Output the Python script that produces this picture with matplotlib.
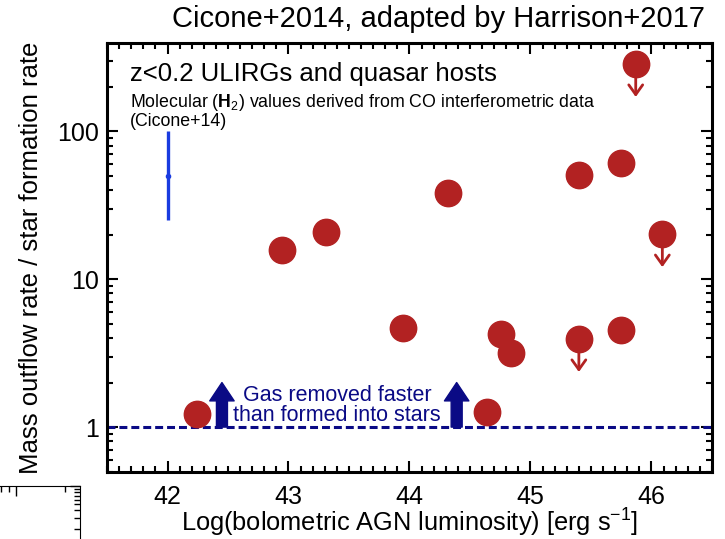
import numpy as np
import matplotlib
matplotlib.use('Agg')
import matplotlib.pyplot as plt

plt.rcParams['font.family'] = 'Liberation Sans'
plt.rcParams['mathtext.fontset'] = 'custom'
plt.rcParams['mathtext.rm'] = 'Liberation Sans'
plt.rcParams['mathtext.it'] = 'Liberation Sans:italic'
plt.rcParams['mathtext.bf'] = 'Liberation Sans:bold'

# detections: log L_bol, outflow rate / SFR
lbol = [42.24, 42.95, 43.31, 43.95, 44.32, 44.64, 44.76, 44.84, 45.40, 45.75, 45.75]
ratio = [1.22, 15.7, 20.8, 4.67, 38.1, 1.26, 4.25, 3.16, 50.4, 60.8, 4.53]

# upper limits
lbol_ul = [45.40, 45.87, 46.09]
ratio_ul = [3.93, 284.0, 20.1]

# typical uncertainty
err_x = 42.0
err_y = 50.0
err_lo = 25.0
err_hi = 100.0

red = '#b22222'
navy = '#0a0a85'

fig = plt.figure(figsize=(7.25, 5.39), dpi=100)
ax = fig.add_axes([0.1476, 0.1243, 0.8344, 0.7957])

ax.set_yscale('log')
ax.set_xlim(41.5, 46.5)
ax.set_ylim(0.497, 394)

ax.axhline(1, color=navy, lw=2.2, ls=(0, (2.6, 1.3)), zorder=2)

for x, y in zip(lbol_ul, ratio_ul):
    ax.annotate('', xy=(x, y * 0.6), xytext=(x, y),
                arrowprops=dict(arrowstyle='->,head_width=0.5,head_length=0.7',
                                color=red, lw=2, shrinkA=0, shrinkB=0), zorder=3)
ax.plot(lbol_ul, ratio_ul, 'o', color=red, ms=19, mec=red, zorder=4)
ax.plot(lbol, ratio, 'o', color=red, ms=19, mec=red, zorder=4)

ax.errorbar([err_x], [err_y], yerr=[[err_y - err_lo], [err_hi - err_y]],
            fmt='o', ms=3, color='#1a3ce0', lw=2.4, capsize=0, zorder=3)

# "outflow wins" arrows sitting on the ratio = 1 line
for x in [42.45, 44.39]:
    ax.annotate('', xy=(x, 2.0), xytext=(x, 1.0),
                arrowprops=dict(arrowstyle='simple,head_length=0.6,head_width=0.8,tail_width=0.36',
                                color=navy, shrinkA=0, shrinkB=0, mutation_scale=22), zorder=3)

ax.text(43.40, 1.40, 'Gas removed faster\nthan formed into stars', color=navy,
        fontsize=15.5, ha='center', va='center', linespacing=0.88)

ax.text(0.038, 0.955, 'z<0.2 ULIRGs and quasar hosts', transform=ax.transAxes,
        fontsize=18.5, ha='left', va='top')
ax.text(0.038, 0.885, 'Molecular ($\\mathbf{H}_2$) values derived from CO interferometric data\n(Cicone+14)',
        transform=ax.transAxes, fontsize=12.8, ha='left', va='top', linespacing=0.95)

ax.set_xticks([42, 43, 44, 45, 46])
ax.set_xticks(np.arange(41.5, 46.55, 0.1), minor=True)
ax.set_yticks([1, 10, 100])
ax.set_yticklabels(['1', '10', '100'])
ax.tick_params(which='both', direction='in', top=True, right=True, labelsize=18, width=1.5)
ax.tick_params(which='major', length=8)
ax.tick_params(axis='x', which='major', pad=9)
ax.tick_params(axis='y', which='major', pad=6)
ax.tick_params(which='minor', length=4)
for s in ax.spines.values():
    s.set_linewidth(2.2)

ax.set_xlabel('Log(bolometric AGN luminosity) [erg s$^{-1}$]', fontsize=18.3, labelpad=-1)
ax.set_ylabel('Mass outflow rate / star formation rate', fontsize=18.5, labelpad=10)

fig.text(0.972, 0.99, 'Cicone+2014, adapted by Harrison+2017', fontsize=21,
         ha='right', va='top')

# corner of a neighbouring panel peeking in at lower left
ax2 = fig.add_axes([-0.2, -0.3, 0.2 + 80 / 725, 0.3 + 1 - 486 / 539])
ax2.set_xscale('log')
ax2.set_yscale('log')
ax2.set_xlim(1e-3, 10 ** (0.37 * 3 / 2.8 - 2))
ax2.set_ylim(10 ** (-3.5), 1)
for side in ['left', 'bottom']:
    ax2.spines[side].set_visible(False)
ax2.tick_params(which='both', direction='in', top=True, right=True, bottom=False, left=False,
                labelbottom=False, labelleft=False, width=1)
ax2.tick_params(which='major', length=7)
ax2.tick_params(which='minor', length=4)
ax2.patch.set_alpha(0)

fig.savefig('out.png', dpi=100)
